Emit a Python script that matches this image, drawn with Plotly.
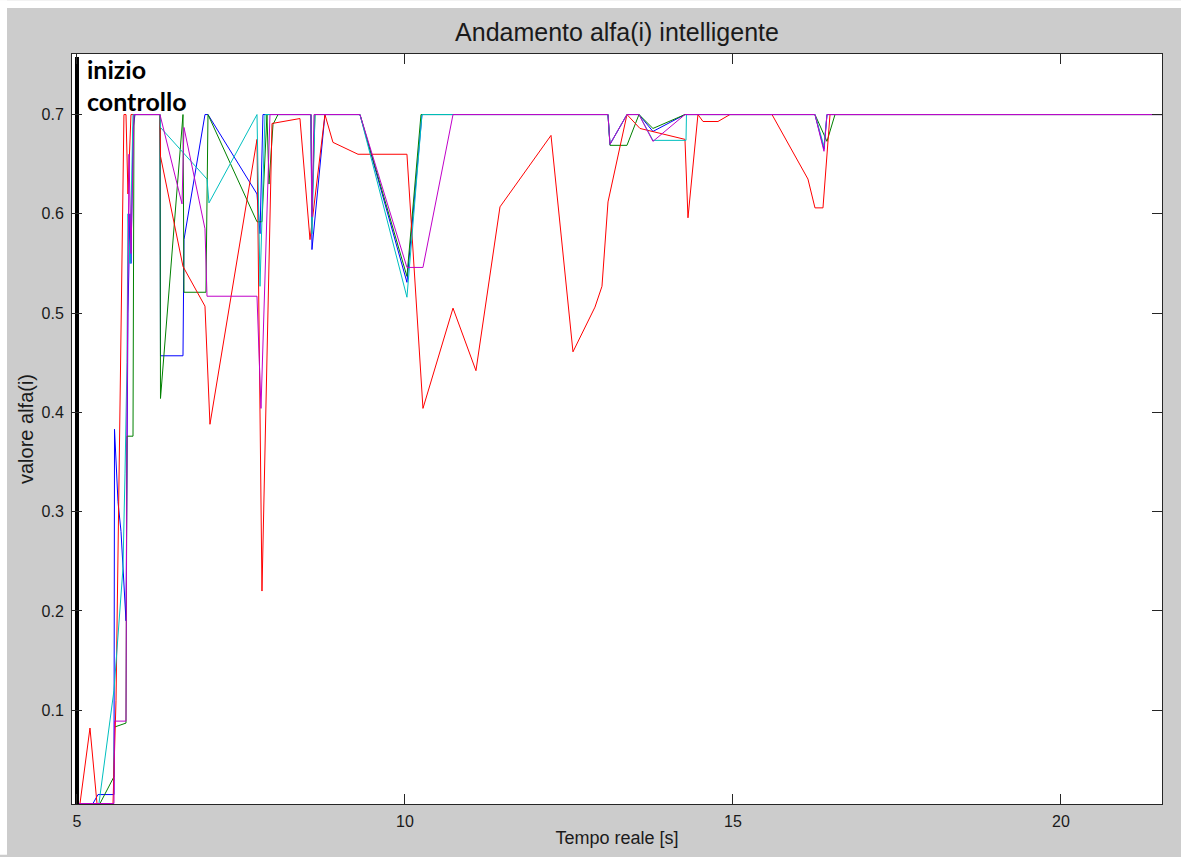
import plotly.graph_objects as go

# Time axis [s] and alfa(i) values for each of the five agents
t_blue = [5.015, 5.244, 5.320, 5.564, 5.572, 5.625, 5.671, 5.716, 5.747, 5.777, 5.808, 5.823,
          5.854, 5.884, 6.265, 6.273, 6.616, 6.631, 6.951, 6.997, 7.744, 7.790, 7.835, 8.567,
          8.582, 8.780, 9.314, 10.030, 10.259, 13.095, 13.125, 13.384, 13.567, 13.780, 14.268,
          16.250, 16.387, 16.433, 21.540]
a_blue = [0.006, 0.006, 0.015, 0.015, 0.383, 0.31, 0.28, 0.22, 0.19, 0.50, 0.60, 0.55,
          0.685, 0.70, 0.70, 0.457, 0.457, 0.574, 0.70, 0.70, 0.62, 0.58, 0.70, 0.70,
          0.564, 0.70, 0.70, 0.531, 0.70, 0.70, 0.67, 0.70, 0.70, 0.683, 0.70,
          0.70, 0.665, 0.70, 0.70]

t_green = [5.015, 5.351, 5.564, 5.572, 5.747, 5.762, 5.854, 5.862, 5.869, 6.265, 6.273, 6.616,
           6.631, 6.966, 6.997, 7.744, 7.820, 7.896, 7.927, 7.988, 8.064, 8.567, 8.582, 8.628,
           9.314, 10.030, 10.244, 13.095, 13.125, 13.384, 13.567, 13.780, 14.268, 16.250,
           16.433, 16.555, 21.540]
a_green = [0.006, 0.006, 0.033, 0.083, 0.087, 0.376, 0.376, 0.547, 0.70, 0.70, 0.414, 0.70,
           0.521, 0.521, 0.70, 0.592, 0.592, 0.70, 0.63, 0.69, 0.70, 0.70, 0.60, 0.70,
           0.70, 0.537, 0.70, 0.70, 0.669, 0.669, 0.70, 0.686, 0.70, 0.70,
           0.673, 0.70, 0.70]

t_red = [5.046, 5.198, 5.305, 5.549, 5.595, 5.625, 5.655, 5.716, 5.747, 5.777, 5.823, 6.265,
         6.273, 6.616, 6.951, 7.027, 7.744, 7.820, 7.973, 8.399, 8.552, 8.780, 8.902, 9.284,
         10.030, 10.274, 10.732, 11.082, 11.448, 12.226, 12.561, 12.896, 13.003, 13.095,
         13.384, 13.582, 14.268, 14.314, 14.466, 14.543, 14.771, 14.954, 15.595, 16.143,
         16.250, 16.372, 16.479, 21.540]
a_red = [0.006, 0.082, 0.006, 0.006, 0.11, 0.25, 0.39, 0.70, 0.70, 0.62, 0.70, 0.70,
         0.658, 0.547, 0.507, 0.388, 0.675, 0.22, 0.691, 0.696, 0.574, 0.70, 0.672, 0.66,
         0.66, 0.404, 0.505, 0.442, 0.607, 0.679, 0.461, 0.506, 0.527, 0.612,
         0.70, 0.686, 0.675, 0.596, 0.70, 0.693, 0.693, 0.70, 0.70, 0.635,
         0.606, 0.606, 0.70, 0.70]

t_cyan = [5.015, 5.335, 5.564, 5.701, 5.732, 5.762, 5.777, 5.808, 5.854, 6.265, 6.273, 6.982,
          7.012, 7.744, 7.790, 7.835, 7.866, 8.567, 8.582, 8.628, 9.314, 10.030, 10.259,
          13.095, 13.125, 13.384, 13.567, 13.780, 14.284, 14.291, 16.250, 16.387, 16.433,
          21.540]
a_cyan = [0.006, 0.006, 0.12, 0.243, 0.338, 0.45, 0.60, 0.55, 0.70, 0.70, 0.687, 0.635,
          0.611, 0.70, 0.527, 0.64, 0.70, 0.70, 0.58, 0.70, 0.70, 0.516, 0.70,
          0.70, 0.67, 0.70, 0.70, 0.674, 0.674, 0.70, 0.70, 0.668, 0.70,
          0.70]

t_magenta = [5.015, 5.564, 5.572, 5.747, 5.762, 5.793, 5.823, 5.869, 6.265, 6.601, 6.631, 6.951,
             6.982, 7.744, 7.805, 7.942, 8.567, 8.582, 8.613, 9.314, 10.030, 10.274, 10.732,
             13.095, 13.125, 13.384, 13.567, 13.780, 14.268, 16.250, 16.387, 16.433, 21.540]
a_magenta = [0.006, 0.006, 0.089, 0.089, 0.40, 0.66, 0.56, 0.70, 0.70, 0.61, 0.687, 0.585,
             0.517, 0.517, 0.404, 0.70, 0.70, 0.597, 0.70, 0.70, 0.546, 0.546, 0.70,
             0.70, 0.67, 0.70, 0.70, 0.673, 0.70, 0.70, 0.663, 0.70, 0.70]

# Instant the controller is switched on
t_control_start = 5.0

x_ticks = [5, 10, 15, 20]
y_ticks = [0.1, 0.2, 0.3, 0.4, 0.5, 0.6, 0.7]
x_range = [4.924, 21.54]
y_range = [0.0055, 0.761]

series = [
    (t_blue, a_blue, "#0000ff"),
    (t_green, a_green, "#008000"),
    (t_red, a_red, "#ff0000"),
    (t_cyan, a_cyan, "#00bfbf"),
    (t_magenta, a_magenta, "#c000c8"),
]

fig = go.Figure()
for t, a, color in series:
    fig.add_trace(go.Scatter(x=t, y=a, mode="lines",
                             line=dict(color=color, width=1),
                             showlegend=False, hoverinfo="skip"))

# Thick vertical marker for the start of the control action
fig.add_trace(go.Scatter(x=[t_control_start, t_control_start], y=[y_range[0], 0.758],
                         mode="lines", line=dict(color="black", width=4),
                         showlegend=False, hoverinfo="skip"))

label_font = dict(family="Lato", size=25, color="black")
fig.add_annotation(x=5.115, y=0.746, xref="x", yref="y", text="<b>inizio</b>",
                   showarrow=False, xanchor="left", yanchor="middle", font=label_font)
fig.add_annotation(x=5.115, y=0.714, xref="x", yref="y", text="<b>controllo</b>",
                   showarrow=False, xanchor="left", yanchor="middle", font=label_font)

sans = "Liberation Sans, Arial, sans-serif"
tick_font = dict(family=sans, size=16, color="#1a1a1a")
x_title_font = dict(family=sans, size=18, color="#1a1a1a")
y_title_font = dict(family=sans, size=20, color="#1a1a1a")
common_axis = dict(showline=True, linecolor="#262626", linewidth=1, mirror="ticks",
                   ticks="inside", ticklen=10, tickcolor="#262626", showgrid=False,
                   zeroline=False, tickfont=tick_font)

fig.update_layout(
    width=1181, height=857,
    margin=dict(l=72, r=19, t=54, b=51, pad=0),
    paper_bgcolor="#cccccc",
    plot_bgcolor="white",
    title=dict(text="Andamento alfa(i) intelligente", x=0.5, xref="paper",
               y=1 - 32 / 857, yref="container", yanchor="middle", xanchor="center",
               font=dict(family=sans, size=25, color="#1a1a1a")),
    xaxis=dict(range=x_range, tickvals=x_ticks, ticktext=[str(v) for v in x_ticks],
               title=dict(text="Tempo reale [s]", font=x_title_font, standoff=2),
               ticklabelstandoff=3, **common_axis),
    yaxis=dict(range=y_range, tickvals=y_ticks, ticktext=[f"{v:.1f}" for v in y_ticks],
               title=dict(text="valore alfa(i)", font=y_title_font, standoff=2),
               ticklabelstandoff=4, **common_axis),
    shapes=[
        dict(type="rect", xref="paper", yref="paper", layer="above",
             x0=-72 / 1090, x1=-65 / 1090, y0=-51 / 752, y1=806 / 752,
             fillcolor="white", line=dict(width=0)),
        dict(type="rect", xref="paper", yref="paper", layer="above",
             x0=-72 / 1090, x1=1109 / 1090, y0=798 / 752, y1=806 / 752,
             fillcolor="white", line=dict(width=0)),
    ],
)

fig.write_html("out.html", config={"displayModeBar": False})
